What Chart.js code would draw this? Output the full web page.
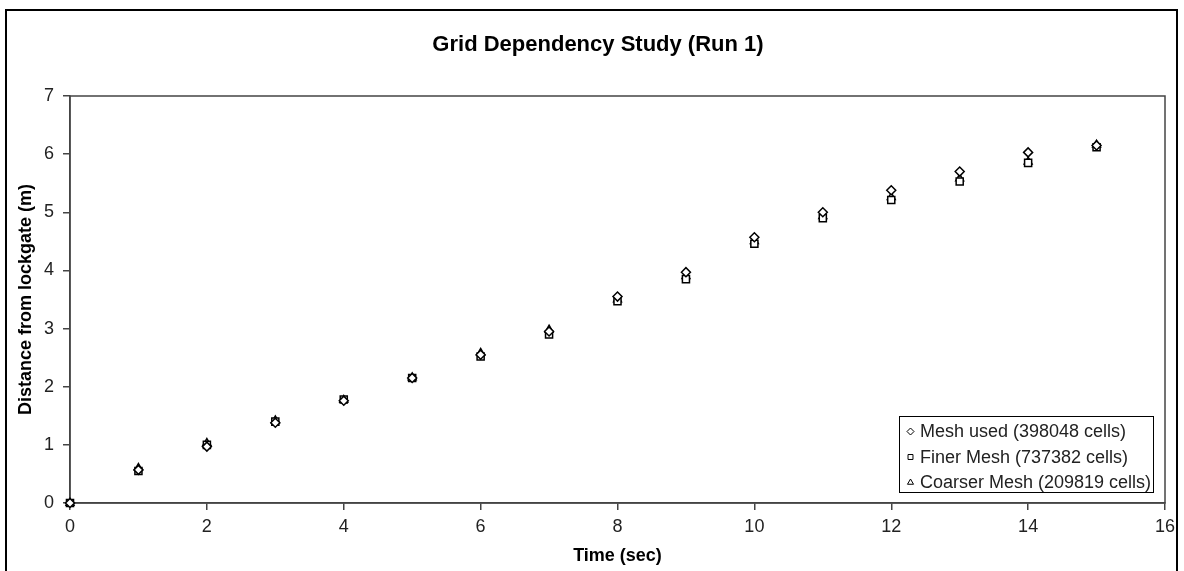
<!DOCTYPE html>
<html>
<head>
<meta charset="utf-8">
<script src="https://cdn.jsdelivr.net/npm/chart.js@4.4.1/dist/chart.umd.min.js"></script>
<style>
  html, body { margin: 0; padding: 0; background: #fff; overflow: hidden; }
  #wrap { position: relative; width: 1184px; height: 571px; }
  #frame { position: absolute; left: 5px; top: 9px; width: 1173px; height: 600px; border: 2px solid #000; box-sizing: border-box; pointer-events: none; }
  canvas { position: absolute; left: 0; top: 0; }
</style>
</head>
<body>
<div id="wrap">
  <canvas id="c" width="1184" height="571"></canvas>
  <div id="frame"></div>
</div>
<script>
const chartTitle = "Grid Dependency Study (Run 1)";
const xTitle = "Time (sec)";
const yTitle = "Distance from lockgate (m)";
const seriesNames = ["Mesh used (398048 cells)", "Finer Mesh (737382 cells)", "Coarser Mesh (209819 cells)"];
const times = [0, 1, 2, 3, 4, 5, 6, 7, 8, 9, 10, 11, 12, 13, 14, 15];
const meshUsed = [0, 0.57, 0.97, 1.38, 1.76, 2.15, 2.55, 2.95, 3.55, 3.97, 4.57, 5.00, 5.38, 5.70, 6.03, 6.15];
const finerMesh = [0, 0.55, 1.00, 1.40, 1.78, 2.15, 2.52, 2.90, 3.47, 3.85, 4.46, 4.90, 5.21, 5.53, 5.85, 6.12];
const coarserMesh = [0, 0.60, 1.03, 1.42, 1.77, 2.16, 2.58, 2.98, 3.50, 3.90, 4.50, 4.93, 5.26, 5.58, 5.87, 6.16];
const xTicks = [0, 2, 4, 6, 8, 10, 12, 14, 16];
const yTicks = [0, 1, 2, 3, 4, 5, 6, 7];

const FONT = "'Liberation Sans', Arial, sans-serif";

function pts(arr) { return times.map((t, i) => ({ x: t, y: arr[i] })); }

const styles = [
  { pointStyle: 'rectRot', pointRadius: 4.5 },
  { pointStyle: 'rect', pointRadius: 5 },
  { pointStyle: 'triangle', pointRadius: 4.5 }
];
const seriesData = [meshUsed, finerMesh, coarserMesh];

const datasets = seriesNames.map((name, i) => ({
  label: name,
  data: pts(seriesData[i]),
  showLine: false,
  clip: false,
  pointStyle: styles[i].pointStyle,
  pointRadius: styles[i].pointRadius,
  pointBackgroundColor: '#ffffff',
  pointBorderColor: '#000000',
  pointBorderWidth: 1.5
}));

const frameBox = {
  id: 'frameBox',
  beforeDatasetsDraw(chart) {
    const { ctx, chartArea: a } = chart;
    ctx.save();
    ctx.strokeStyle = '#444';
    ctx.lineWidth = 1.5;
    ctx.strokeRect(a.left, a.top, a.right - a.left, a.bottom - a.top);
    ctx.restore();
  }
};

const titleText = {
  id: 'titleText',
  afterDraw(chart) {
    const { ctx } = chart;
    ctx.save();
    ctx.font = "bold 22px " + FONT;
    ctx.fillStyle = '#000';
    ctx.textAlign = 'center';
    ctx.textBaseline = 'middle';
    ctx.fillText(chartTitle, 598, 45);
    ctx.restore();
  }
};

const boxLegend = {
  id: 'boxLegend',
  afterDraw(chart) {
    const { ctx } = chart;
    const x0 = 899, y0 = 416, w = 254, h = 76;
    ctx.save();
    ctx.fillStyle = '#fff';
    ctx.fillRect(x0, y0, w, h);
    ctx.strokeStyle = '#000';
    ctx.lineWidth = 1;
    ctx.strokeRect(x0 + 0.5, y0 + 0.5, w, h);
    ctx.font = "18px " + FONT;
    ctx.textBaseline = 'middle';
    ctx.fillStyle = '#222';
    chart.data.datasets.forEach((ds, i) => {
      const cy = y0 + 15.5 + i * 25.5;
      ctx.save();
      ctx.fillStyle = '#fff';
      ctx.strokeStyle = '#000';
      ctx.lineWidth = 1;
      Chart.helpers.drawPoint(ctx, { pointStyle: ds.pointStyle, radius: 3.5, borderWidth: 1 }, 910.5, cy);
      ctx.restore();
      ctx.fillText(ds.label, 920, cy + 1);
    });
    ctx.restore();
  }
};

new Chart(document.getElementById('c'), {
  type: 'scatter',
  data: { datasets },
  plugins: [frameBox, titleText, boxLegend],
  options: {
    responsive: false,
    animation: false,
    layout: { padding: { left: 0, right: 19, top: 96, bottom: 0 } },
    plugins: {
      legend: { display: false },
      tooltip: { enabled: false },
      title: { display: false }
    },
    scales: {
      x: {
        type: 'linear',
        min: 0, max: 16,
        afterBuildTicks(scale) { scale.ticks = xTicks.map(v => ({ value: v })); },
        afterFit(scale) { scale.height = 68; },
        grid: { drawOnChartArea: false, drawTicks: true, tickLength: 7, color: '#444', lineWidth: 1.5 },
        border: { display: true, color: '#444', width: 1.5 },
        ticks: { color: '#222', padding: 6, font: { family: FONT, size: 18 }, maxRotation: 0 },
        title: { display: true, text: xTitle, color: '#000', font: { family: FONT, size: 18, weight: 'bold', lineHeight: 1.2 }, padding: { top: 0, bottom: 4 } }
      },
      y: {
        type: 'linear',
        min: 0, max: 7,
        afterBuildTicks(scale) { scale.ticks = yTicks.map(v => ({ value: v })); },
        afterFit(scale) { scale.width = 70; },
        grid: { drawOnChartArea: false, drawTicks: true, tickLength: 7, color: '#444', lineWidth: 1.5 },
        border: { display: true, color: '#444', width: 1.5 },
        ticks: { color: '#222', padding: 9, font: { family: FONT, size: 18 } },
        title: { display: true, text: yTitle, color: '#000', font: { family: FONT, size: 18, weight: 'bold', lineHeight: 1.2 }, padding: { top: 15, bottom: 0 } }
      }
    }
  }
});
</script>
</body>
</html>
